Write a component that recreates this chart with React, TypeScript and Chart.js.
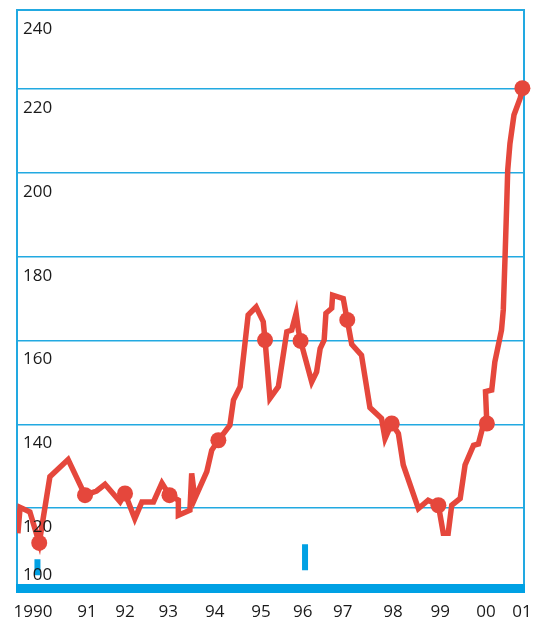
import React, { useEffect, useRef } from "react";
import { Chart, registerables } from "chart.js";

Chart.register(...registerables);

// ---- data ----
const yearTickValues = [1990, 1991.215, 1992.07, 1993.04, 1994.09, 1995.13, 1996.07, 1996.97, 1998.1, 1999.16, 2000.19, 2001.0];
const yearTickLabels = ["1990", "91", "92", "93", "94", "95", "96", "97", "98", "99", "00", "01"];
const yTickValues = [100, 120, 140, 160, 180, 200, 220, 240];

const indexYears = [
  1989.66, 1989.71, 1989.93, 1990.14, 1990.38, 1990.79, 1991.17, 1991.43, 1991.62, 1991.96,
  1992.07, 1992.29, 1992.45, 1992.71, 1992.9, 1993.07, 1993.27, 1993.27, 1993.53, 1993.57,
  1993.64, 1993.91, 1994.02, 1994.17, 1994.43, 1994.51, 1994.66, 1994.84, 1995.02, 1995.18,
  1995.22, 1995.33, 1995.52, 1995.71, 1995.82, 1995.92, 1995.97, 1996.02, 1996.27, 1996.38,
  1996.46, 1996.55, 1996.59, 1996.72, 1996.74, 1996.98, 1997.04, 1997.07, 1997.17, 1997.39,
  1997.58, 1997.84, 1997.92, 1998.07, 1998.22, 1998.33, 1998.67, 1998.89, 1999.12, 1999.23,
  1999.34, 1999.42, 1999.61, 1999.72, 1999.91, 2000.02, 2000.13, 2000.21, 2000.18, 2000.32,
  2000.39, 2000.54, 2000.58, 2000.62, 2000.66, 2000.68, 2000.73, 2000.82, 2000.96, 2001.01,
];
const indexValues = [
  114.0, 120.2, 119.1, 111.7, 127.5, 131.6, 123.1, 124.1, 125.7, 121.5,
  123.5, 117.5, 121.5, 121.5, 126.0, 123.1, 121.9, 118.3, 119.5, 128.3,
  122.3, 128.7, 133.8, 136.2, 139.8, 145.8, 149.0, 166.1, 168.0, 164.5,
  160.1, 146.2, 149.0, 162.1, 162.5, 166.5, 162.5, 159.9, 150.1, 152.5,
  158.1, 160.1, 166.5, 167.7, 170.8, 170.0, 166.5, 164.9, 159.1, 156.5,
  144.0, 141.4, 136.6, 140.2, 137.8, 130.3, 119.9, 121.9, 120.7, 114.0,
  114.0, 120.7, 122.3, 130.3, 135.0, 135.3, 139.8, 140.2, 147.8, 148.2,
  154.9, 162.5, 167.3, 180.0, 193.5, 200.7, 207.0, 213.8, 217.8, 220.2,
];

const dotYears = [1990.14, 1991.17, 1992.07, 1993.07, 1994.17, 1995.22, 1996.02, 1997.07, 1998.07, 1999.12, 2000.21, 2001.01];
const dotValues = [111.7, 123.1, 123.5, 123.1, 136.2, 160.1, 159.9, 164.9, 140.2, 120.7, 140.2, 220.2];

const markerYears = [1990.1, 1996.12];
const markerLow = [104.0, 105.2];
const markerHigh = [107.8, 111.4];

// ---- styles ----
const RED = "#e5473c";
const BLUE = "#22a9e1";
const BAR_BLUE = "#00a1e4";
const TEXT = "#1a1a1a";
const FONT = "'Open Sans', 'Noto Sans', sans-serif";

const framePlugin = {
  id: "frame",
  beforeDatasetsDraw(chart: any) {
    const { ctx, chartArea } = chart;
    const y = chart.scales.y;
    const bottom = y.getPixelForValue(100);
    ctx.save();
    ctx.strokeStyle = BLUE;
    ctx.lineWidth = 2;
    ctx.beginPath();
    ctx.moveTo(chartArea.left, bottom);
    ctx.lineTo(chartArea.left, chartArea.top);
    ctx.lineTo(chartArea.right, chartArea.top);
    ctx.lineTo(chartArea.right, bottom);
    ctx.stroke();
    ctx.fillStyle = BAR_BLUE;
    ctx.fillRect(chartArea.left - 1, bottom - 8, chartArea.right - chartArea.left + 2, 9);
    ctx.restore();
  },
  afterDatasetsDraw(chart: any) {
    const { ctx, chartArea } = chart;
    const y = chart.scales.y;
    const bottom = y.getPixelForValue(100);
    ctx.save();
    ctx.fillStyle = TEXT;
    ctx.font = `17px ${FONT}`;
    ctx.textAlign = "left";
    ctx.textBaseline = "middle";
    yTickValues.forEach((v) => {
      const p = Math.max(y.getPixelForValue(v), chartArea.top);
      const ly = Math.min(p + 19, bottom - 17);
      ctx.fillText(String(v), chartArea.left + 6, ly);
    });
    ctx.restore();
  },
};

export default function App() {
  const ref = useRef<HTMLCanvasElement | null>(null);

  useEffect(() => {
    document.body.style.margin = "0";
    const canvas = ref.current;
    if (!canvas) return;

    const lineData = indexYears.map((x, i) => ({ x, y: indexValues[i] }));
    const dotData = dotYears.map((x, i) => ({ x, y: dotValues[i] }));
    const markerData: any[] = [];
    markerYears.forEach((x, i) => {
      if (i > 0) markerData.push({ x, y: null });
      markerData.push({ x, y: markerHigh[i] });
      markerData.push({ x, y: markerLow[i] });
    });

    const chart = new Chart(canvas, {
      type: "line",
      data: {
        datasets: [
          {
            data: markerData,
            borderColor: BAR_BLUE,
            borderWidth: 6,
            borderCapStyle: "butt",
            pointRadius: 0,
            spanGaps: false,
            tension: 0,
            order: 3,
          },
          {
            data: lineData,
            borderColor: RED,
            borderWidth: 5.5,
            borderJoinStyle: "miter",
            pointRadius: 0,
            tension: 0,
            order: 2,
          },
          {
            data: dotData,
            showLine: false,
            pointRadius: 8,
            pointBackgroundColor: RED,
            pointBorderWidth: 0,
            borderColor: RED,
            clip: false,
            order: 1,
          } as any,
        ],
      },
      options: {
        responsive: false,
        animation: false,
        layout: { padding: { left: 17, right: 20, top: 10, bottom: 0 } },
        plugins: { legend: { display: false }, tooltip: { enabled: false } },
        scales: {
          x: {
            type: "linear",
            min: 1989.64,
            max: 2001.046,
            grid: { display: false, drawTicks: false },
            border: { display: false },
            afterBuildTicks: (scale: any) => {
              scale.ticks = yearTickValues.map((value) => ({ value }));
            },
            afterFit: (scale: any) => {
              scale.height = 26;
            },
            ticks: {
              autoSkip: false,
              maxRotation: 0,
              padding: 10,
              color: TEXT,
              font: { family: FONT, size: 17 },
              callback: (_v: any, i: number) => yearTickLabels[i],
            },
          },
          y: {
            type: "linear",
            min: 100,
            max: 238.85,
            afterBuildTicks: (scale: any) => {
              scale.ticks = yTickValues.filter((v) => v <= 238.85).map((value) => ({ value }));
            },
            afterFit: (scale: any) => {
              scale.width = 0;
            },
            grid: {
              drawTicks: false,
              lineWidth: 1.5,
              color: (c: any) => (c.tick && c.tick.value > 100 && c.tick.value < 230 ? BLUE : "rgba(0,0,0,0)"),
            },
            border: { display: false },
            ticks: { display: false },
          },
        },
      },
      plugins: [framePlugin],
    } as any);

    return () => chart.destroy();
  }, []);

  return <canvas ref={ref} width={544} height={618} style={{ display: "block" }} />;
}
